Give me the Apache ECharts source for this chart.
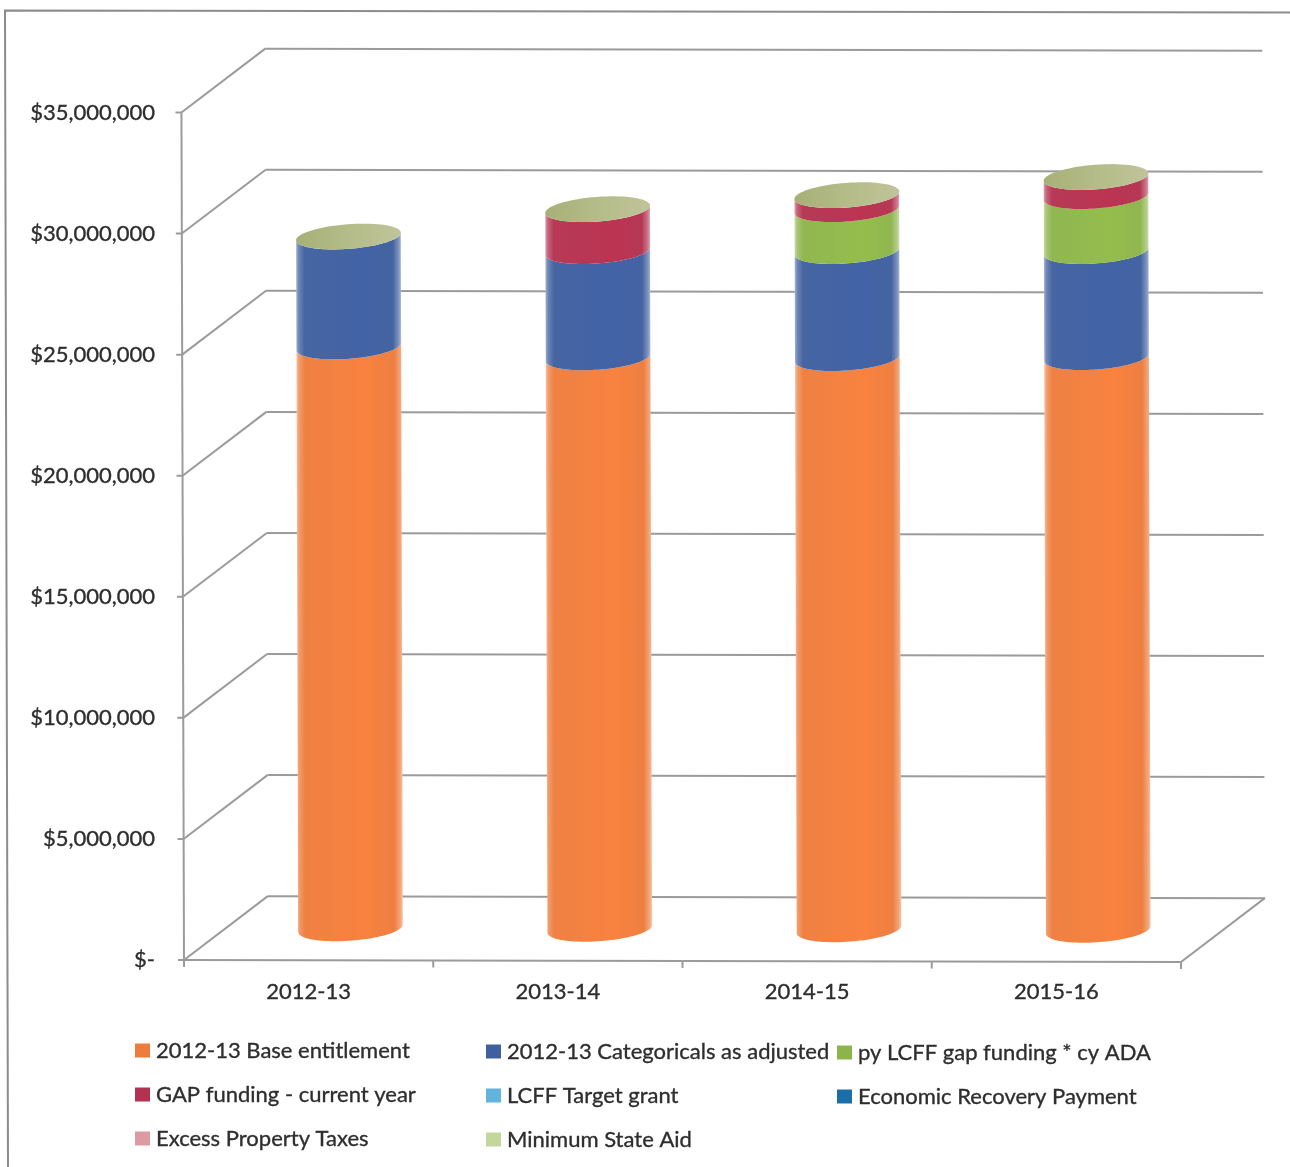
<!DOCTYPE html>
<html><head><meta charset="utf-8">
<style>html,body{margin:0;padding:0;background:#fff}#c{width:1290px;height:1167px}</style>
<script src="https://cdn.jsdelivr.net/npm/echarts@6/dist/echarts.min.js"></script>
</head><body><div id="c"></div>
<script>
const categories = ['2012-13','2013-14','2014-15','2015-16'];
const seriesNames = ['2012-13 Base entitlement','2012-13 Categoricals as adjusted','py LCFF gap funding * cy ADA','GAP funding - current year','LCFF Target grant','Economic Recovery Payment','Excess Property Taxes','Minimum State Aid'];
const baseEntitlement = [24030000,23600000,23590000,23650000];
const categoricals    = [4540000,4390000,4420000,4380000];
const gapFundingPrior = [0,0,1730000,2270000];
const gapFundingCurrent = [0,1730000,580000,790000];
const targetGrant = [0,0,0,0];
const economicRecovery = [0,0,0,0];
const excessTaxes = [0,0,0,0];
const minimumStateAid = [0,0,0,0];
const allValues = [baseEntitlement,categoricals,gapFundingPrior,gapFundingCurrent,targetGrant,economicRecovery,excessTaxes,minimumStateAid];
const colors = ['#ee7c3c','#3f5f9f','#8db44a','#b3324f','#62b3dd','#1a6fa6','#dc9aa3','#c3d69b'];
const yTicks = [0,5000000,10000000,15000000,20000000,25000000,30000000,35000000];
const yMax = 35000000;

const FONT = 'Lato';
const TXT = '#2e2e2e';
const GRID_C = '#9b9b9b';
// Oblique projection of the 3-D chart box, plus the slight skew of the scan
const DX = 84, DY = -64, RX = 52.5, RY = 12.3, TILT = -0.076;
const X0 = 184, Y0 = 960;
const P = (x, y) => [x - (Y0 - y) * 0.003, y + (x - X0) * 0.002];

function band(cx, yTop, yBot) {
  const pts = [], N = 48;
  const ca = Math.cos(TILT), sa = Math.sin(TILT);
  const pt = (t, y) => {
    const ex = RX * Math.cos(t), ey = RY * Math.sin(t);
    const base = P(cx, y);
    return [base[0] + ex * ca - ey * sa, base[1] + ex * sa + ey * ca];
  };
  for (let i = 0; i <= N; i++) pts.push(pt(Math.PI * (1 - i / N), yTop));
  for (let i = 0; i <= N; i++) pts.push(pt(Math.PI * i / N, yBot));
  return pts;
}
function cap(cx, y) {
  const pts = [], N = 72;
  const ca = Math.cos(TILT), sa = Math.sin(TILT);
  const base = P(cx, y);
  for (let i = 0; i < N; i++) {
    const t = 2 * Math.PI * i / N, ex = RX * Math.cos(t), ey = RY * Math.sin(t);
    pts.push([base[0] + ex * ca - ey * sa, base[1] + ex * sa + ey * ca]);
  }
  return pts;
}
// echarts.color.lift: positive darkens, negative lightens
function shade(c) {
  const L = echarts.color.lift;
  return new echarts.graphic.LinearGradient(0, 0, 1, 0, [
    {offset: 0, color: L(c, 0.55)},
    {offset: 0.025, color: L(c, 0.25)},
    {offset: 0.08, color: L(c, 0.04)},
    {offset: 0.65, color: L(c, -0.05)},
    {offset: 0.92, color: L(c, 0.03)},
    {offset: 0.98, color: L(c, 0.35)},
    {offset: 1, color: L(c, 0.6)}
  ]);
}
const capFill = () => new echarts.graphic.LinearGradient(0, 0, 1, 0, [
  {offset: 0, color: '#a6b076'}, {offset: 0.5, color: '#b4bc88'}, {offset: 1, color: '#bfc49a'}
]);

function renderBand(idx) {
  return function (params, api) {
    const i = api.value(0), x = api.coord([i, 0])[0] + DX / 2;
    const y0 = api.coord([i, api.value(1)])[1] + DY / 2;
    const y1 = api.coord([i, api.value(2)])[1] + DY / 2;
    if (idx === 7) {
      return {type: 'polygon', shape: {points: cap(x, y1)}, style: {fill: capFill()}};
    }
    if (api.value(1) === api.value(2)) return null;
    return {type: 'polygon', shape: {points: band(x, y1, y0)}, style: {fill: shade(colors[idx])}};
  };
}
function line(a, b, w) {
  return {type: 'line', shape: {x1: a[0], y1: a[1], x2: b[0], y2: b[1]},
          style: {stroke: GRID_C, lineWidth: w || 2}};
}
function renderYGrid(params, api) {
  const y = api.coord([0, api.value(1)])[1];
  const x0 = X0, x1 = X0 + 997;
  return {type: 'group', children: [
    line(P(x0, y), P(x0 + DX, y + DY)),
    line(P(x0 + DX, y + DY), P(x1 + DX, y + DY)),
    line(P(x0 - 6, y), P(x0, y))
  ]};
}
function renderXFrame(params, api) {
  const i = api.value(0), w = api.size([1, 0])[0];
  const c = api.coord([i, 0]), l = c[0] - w / 2, r = c[0] + w / 2, y = c[1];
  const top = api.coord([i, yMax])[1];
  const kids = [line(P(l, y), P(r, y)), line(P(l, y), P(l, y + 7))];
  if (i === 0) kids.push(line(P(l, top), P(l, y)));
  if (i === categories.length - 1) {
    kids.push(line(P(r, y), P(r, y + 7)));
    kids.push(line(P(r, y), P(r + DX, y + DY)));
  }
  return {type: 'group', children: kids};
}

const stacked = [];
const totals = categories.map(() => 0);
allValues.forEach((vals, idx) => {
  const data = vals.map((v, i) => { const s = totals[i]; totals[i] += v; return [i, s, totals[i]]; });
  stacked.push({
    type: 'custom', name: seriesNames[idx], coordinateSystem: 'cartesian2d', clip: false, z: 3,
    encode: {x: 0, y: [1, 2]}, itemStyle: {color: colors[idx]}, silent: true,
    renderItem: renderBand(idx), data
  });
});
const heavy = {fontFamily: FONT, fontSize: 22, color: TXT, textBorderColor: TXT, textBorderWidth: 0.35};
const legendBase = {
  orient: 'vertical', icon: 'rect', itemWidth: 15, itemHeight: 14, itemGap: 17,
  selectedMode: false, padding: 0,
  textStyle: Object.assign({}, heavy, {padding: [0, 0, 0, 1], lineHeight: 27})
};
const chart = echarts.init(document.getElementById('c'), null, {renderer: 'canvas'});
chart.setOption({
  animation: false,
  backgroundColor: '#ffffff',
  grid: {left: X0, top: 112.5, width: 997, height: 847.5},
  xAxis: {type: 'category', data: categories, axisLine: {show: false}, axisTick: {show: false},
    axisLabel: Object.assign({}, heavy, {margin: 21})},
  yAxis: {type: 'value', min: 0, max: yMax, interval: 5000000, splitLine: {show: false},
    axisLine: {show: false}, axisTick: {show: false},
    axisLabel: Object.assign({}, heavy, {margin: 29,
      formatter: v => v === 0 ? '$-' : '$' + v.toLocaleString('en-US')})},
  legend: [
    Object.assign({}, legendBase, {left: 135, top: 1037, data: [seriesNames[0], seriesNames[3], seriesNames[6]]}),
    Object.assign({}, legendBase, {left: 486, top: 1038, data: [seriesNames[1], seriesNames[4], seriesNames[7]]}),
    Object.assign({}, legendBase, {left: 837, top: 1039, data: [seriesNames[2], seriesNames[5]]})
  ],
  graphic: [{type: 'polyline', silent: true, z: 0,
    shape: {points: [[1290, 12.5], [5, 10.5], [8, 1167]]},
    style: {stroke: '#8c8c8c', lineWidth: 2, fill: 'none'}}],
  series: [
    {type: 'custom', name: 'wall', coordinateSystem: 'cartesian2d', clip: false, z: 1, silent: true,
     encode: {x: 0, y: 1}, renderItem: renderYGrid, data: yTicks.map(v => [0, v])},
    {type: 'custom', name: 'floor', coordinateSystem: 'cartesian2d', clip: false, z: 1, silent: true,
     encode: {x: 0, y: 1}, renderItem: renderXFrame, data: categories.map((c, i) => [i, 0])}
  ].concat(stacked)
});
</script></body></html>
